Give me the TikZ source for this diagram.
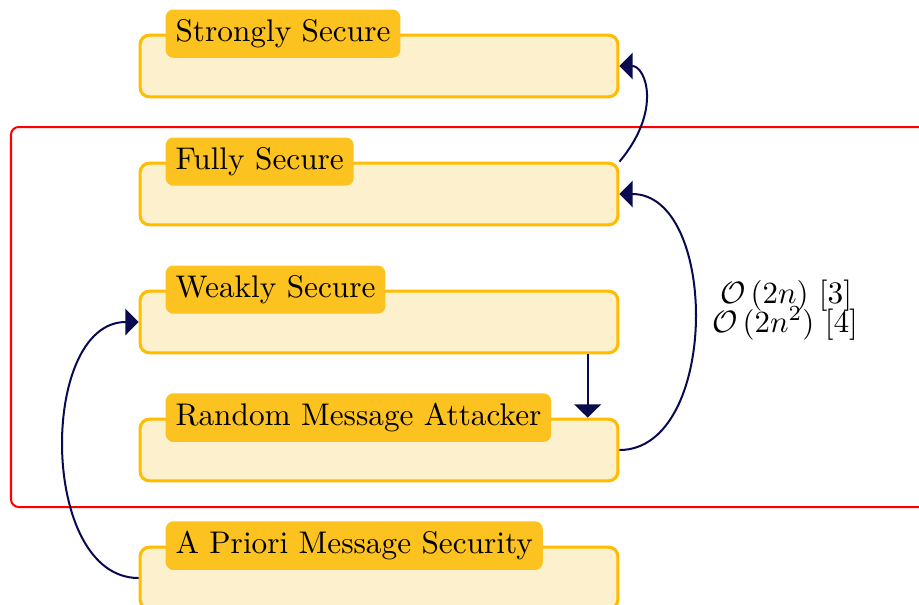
\documentclass[tikz,border=0pt]{standalone}
\usetikzlibrary{arrows.meta}

\definecolor{blockline}{RGB}{255,188,0}
\definecolor{blockfill}{RGB}{253,240,204}
\definecolor{blocktitle}{RGB}{252,194,32}
\definecolor{arrowblue}{RGB}{10,10,80}

\tikzset{
  block/.style={draw=blockline, fill=blockfill, line width=1pt, rounded corners=3pt,
    minimum width=155pt, minimum height=20pt, inner sep=0pt},
  blocktag/.style={fill=blocktitle, rounded corners=2.5pt, inner xsep=3.2pt,
    inner ysep=3.2pt, anchor=west},
  impl/.style={draw=arrowblue, line width=0.65pt, -{Triangle[length=4.3pt,width=8.6pt]}},
}

\begin{document}
\begin{tikzpicture}[x=0.3244pt,y=-0.3244pt,font=\fontsize{10.15pt}{12pt}\selectfont]
 \useasboundingbox (0,0) rectangle (919,604);
 % frame round the middle notions
 \draw[red, line width=0.65pt, rounded corners=2.5pt] (11,127) rectangle (960,507);
 % security notions
 \node[block] (strong) at (379,66) {};
 \node[block] (full) at (379,194) {};
 \node[block] (weak) at (379,322) {};
 \node[block] (rma) at (379,450) {};
 \node[block] (apriori) at (379,578) {};
 \node[blocktag] (strongtag) at ([xshift=8.6pt]strong.north west) {Strongly Secure};
 \node[blocktag] (fulltag) at ([xshift=8.6pt]full.north west) {Fully Secure};
 \node[blocktag] (weaktag) at ([xshift=8.6pt]weak.north west) {Weakly Secure};
 \node[blocktag] (rmatag) at ([xshift=8.6pt]rma.north west) {Random Message Attacker};
 \node[blocktag] (aprioritag) at ([xshift=8.6pt]apriori.north west) {A Priori Message Security};
 % implications
 \draw[impl] (full.north east) to[out=50,in=0,out looseness=1.8,in looseness=0.7] (strong.east);
 \draw[impl] (rma.east) to[out=0,in=0] (full.east);
 \draw[impl] ([xshift=-10.3pt]weak.south east) -- ([xshift=-10.3pt]rma.north east);
 \draw[impl] (apriori.west) to[out=180,in=180] (weak.west);
 % costs
 \node[anchor=base] (costa) at (786,303) {$\mathcal{O}\,(2n)$ [3]};
 \node[anchor=base] (costb) at (785,332) {$\mathcal{O}\,(2n^2)$ [4]};
\end{tikzpicture}
\end{document}
